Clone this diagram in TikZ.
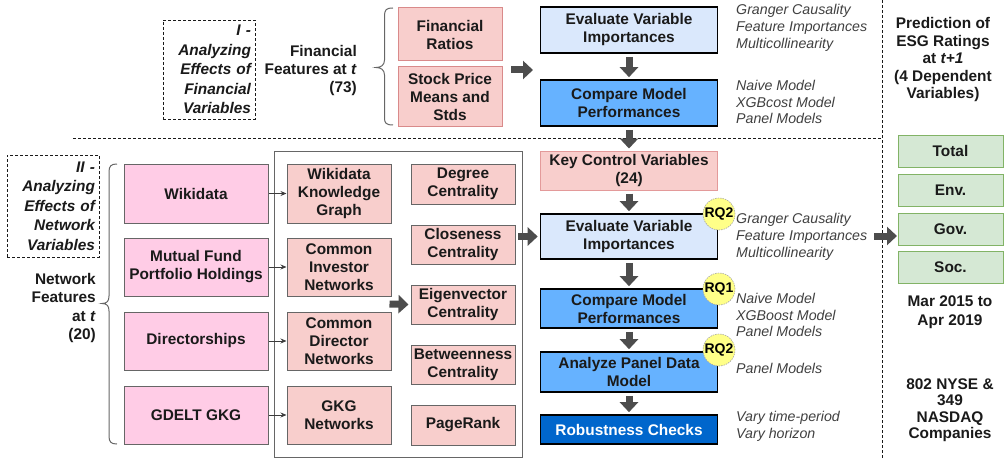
\documentclass[tikz,border=0pt]{standalone}
\usepackage{fontspec}
\setmainfont{Liberation Sans}
\usetikzlibrary{arrows.meta,calc}

\definecolor{finfill}{HTML}{F8CECC}
\definecolor{finborder}{HTML}{D98A8A}
\definecolor{kcborder}{HTML}{E39A9A}
\definecolor{pinkfill}{HTML}{FFCCE6}
\definecolor{boxgray}{HTML}{666666}
\definecolor{evalfill}{HTML}{DAE8FC}
\definecolor{cmpfill}{HTML}{66B2FF}
\definecolor{robfill}{HTML}{0066CC}
\definecolor{greenfill}{HTML}{D5E8D4}
\definecolor{greenborder}{HTML}{82B366}
\definecolor{rqfill}{HTML}{FFFF88}
\definecolor{arrowgray}{HTML}{4D4D4D}
\definecolor{itgray}{HTML}{404040}
\definecolor{inkblack}{HTML}{1A1A1A}

\begin{document}
\begin{tikzpicture}[x=1pt,y=-1pt,
  txt/.style={font=\bfseries\fontsize{15.4}{18}\selectfont, align=center, inner sep=0pt, text=inkblack},
  box/.style={txt, draw, rectangle, line width=1pt},
  finbox/.style={box, fill=finfill, draw=finborder, minimum width=104pt},
  netsrc/.style={box, fill=pinkfill, draw=boxgray, minimum width=144pt},
  netbox/.style={box, fill=finfill, draw=boxgray, minimum width=104pt},
  stepbox/.style={box, draw=black, line width=1.6pt, minimum width=177pt},
  evalbox/.style={stepbox, fill=evalfill},
  cmpbox/.style={stepbox, fill=cmpfill},
  robbox/.style={stepbox, fill=robfill, text=white},
  outbox/.style={box, fill=greenfill, draw=greenborder, minimum width=105pt, minimum height=32pt},
  partbox/.style={draw=inkblack, line width=0.9pt, dash pattern=on 3pt off 2pt,
    font=\bfseries\itshape\fontsize{15.4}{19.5}\selectfont, align=right, text width=84pt,
    inner sep=4pt, text=inkblack},
  itx/.style={font=\itshape\fontsize{14.2}{16.8}\selectfont, text=itgray, align=left, inner sep=0pt},
  rq/.style={circle, fill=rqfill, draw=gray!70, dash pattern=on 1.5pt off 1pt, line width=0.6pt,
    minimum size=32pt, inner sep=0pt, font=\bfseries\fontsize{14}{14}\selectfont},
  fat/.style={draw=arrowgray, line width=7pt, -{Triangle[width=18pt,length=10pt]}},
  feed/.style={draw=inkblack!85, line width=0.8pt, -{Stealth[length=6pt,width=5pt]}},
  sep/.style={draw=inkblack, line width=0.9pt, dash pattern=on 3pt off 2pt},
  bracket/.style={draw=boxgray, line width=1pt},
]
\useasboundingbox (0,0) rectangle (1007,460);

% ---------- separators ----------
\draw[sep] (73,138) -- (882,138);
\draw[sep] (882,0) -- (882,460);

% ---------- part I: financial variables ----------
\node[partbox, minimum height=99pt] (part1) at (209,69.5)
  {I -\\Analyzing\\Effects of\\Financial\\Variables};
\node[txt, align=right, anchor=east] (finfeat) at (357,71)
  {Financial\\Features at \textit{t}\\(73)};

\node[finbox, minimum height=53pt] (fr) at (450,34.5) {Financial\\Ratios};
\node[finbox, minimum height=59pt] (sp) at (450,96.5) {Stock Price\\Means and\\Stds};

% curly bracket grouping the financial feature boxes
\draw[bracket] (393,8) .. controls (386,8) and (384.5,10) .. (384.5,16)
  -- (384.5,60) .. controls (384.5,65) and (381,67.5) .. (376,67.5)
  .. controls (381,67.5) and (384.5,70) .. (384.5,75)
  -- (384.5,118) .. controls (384.5,123) and (386,125) .. (393,125);

\node[evalbox, minimum height=46pt] (ev1) at (629,30) {Evaluate Variable\\Importances};
\node[cmpbox, minimum height=46pt] (cm1) at (629,103) {Compare Model\\Performances};

\node[itx, anchor=west] (it1) at (736,28) {Granger Causality\\Feature Importances\\Multicollinearity};
\node[itx, anchor=west] (it2) at (736,102) {Naive Model\\XGBcost Model\\Panel Models};

\coordinate (fa) at (511,70);
\coordinate (fb) at (533,70);
\draw[fat] (fa) -- (fb);
\draw[fat] ($(ev1.south)+(0,3)$) -- ($(cm1.north)+(0,-2)$);

% ---------- part II: network variables ----------
\node[partbox, minimum height=102pt] (part2) at (53,206)
  {II -\\Analyzing\\Effects of\\Network\\Variables};
\node[txt, align=right, anchor=east, font=\bfseries\fontsize{15.4}{18.5}\selectfont] (netfeat) at (96,308)
  {Network\\Features\\at \textit{t}\\(20)};

\node[netsrc, minimum height=59pt] (wk) at (196,193.5) {Wikidata};
\node[netsrc, minimum height=58pt] (mf) at (196,267) {Mutual Fund\\Portfolio Holdings};
\node[netsrc, minimum height=58pt] (dr) at (196,341) {Directorships};
\node[netsrc, minimum height=58pt] (gd) at (196,415) {GDELT GKG};

% curly bracket grouping the network data sources
\draw[bracket] (117,164) .. controls (111,164) and (109,166) .. (109,172)
  -- (109,296) .. controls (109,301) and (107,303.5) .. (102,303.5)
  .. controls (107,303.5) and (109,306) .. (109,311)
  -- (109,436) .. controls (109,442) and (111,444) .. (117,444);

\node[draw=boxgray, line width=0.9pt, minimum width=248pt, minimum height=306pt, inner sep=0pt]
  (netframe) at (398,304) {};

\node[netbox, minimum height=59pt] (wkg) at (339,193.5) {Wikidata\\Knowledge\\Graph};
\node[netbox, minimum height=58pt] (cin) at (339,267) {Common\\Investor\\Networks};
\node[netbox, minimum height=58pt] (cdn) at (339,341) {Common\\Director\\Networks};
\node[netbox, minimum height=58pt] (gkg) at (339,415) {GKG\\Networks};

\draw[feed] (wk) -- (wkg);
\draw[feed] (mf) -- (cin);
\draw[feed] (dr) -- (cdn);
\draw[feed] (gd) -- (gkg);

\node[netbox, minimum height=40pt] (deg) at (463,184) {Degree\\Centrality};
\node[netbox, minimum height=39pt] (clo) at (463,244.5) {Closeness\\Centrality};
\node[netbox, minimum height=39pt] (eig) at (463,304.5) {Eigenvector\\Centrality};
\node[netbox, minimum height=39pt] (btw) at (463,364.5) {Betweenness\\Centrality};
\node[netbox, minimum height=40pt] (pgr) at (463,425) {PageRank};

\draw[fat] ($(cin.south east)!0.5!(cdn.north east)+(-2,0)$) -- ($(eig.west)+(-2,0)$);

% ---------- analysis steps ----------
\node[box, fill=finfill, draw=kcborder, minimum width=177pt, minimum height=39pt] (kc) at (629,170.5)
  {Key Control Variables\\(24)};
\node[evalbox, minimum height=45pt] (ev2) at (629,236.5) {Evaluate Variable\\Importances};
\node[cmpbox, minimum height=39pt] (cm2) at (629,308.5) {Compare Model\\Performances};
\node[cmpbox, minimum height=40pt] (an) at (629,372) {Analyze Panel Data\\Model};
\node[robbox, minimum height=29pt] (rb) at (629,429.5) {Robustness Checks};

\draw[fat] ($(cm1.south)+(0,3)$) -- ($(kc.north)+(0,-2)$);
\draw[fat] ($(kc.south)+(0,3)$) -- ($(ev2.north)+(0,-2)$);
\draw[fat] ($(ev2.south)+(0,3)$) -- ($(cm2.north)+(0,-2)$);
\draw[fat] ($(cm2.south)+(0,3)$) -- ($(an.north)+(0,-2)$);
\draw[fat] ($(an.south)+(0,3)$) -- ($(rb.north)+(0,-2)$);
\draw[fat] ($(netframe.east |- ev2.west)+(-4,0)$) -- ($(ev2.west)+(-2,0)$);

\node[rq] (rqa) at (719,214) {RQ2};
\node[rq] (rqb) at (719,289) {RQ1};
\node[rq] (rqc) at (719,350) {RQ2};

\node[itx, anchor=west] (it3) at (736,237) {Granger Causality\\Feature Importances\\Multicollinearity};
\node[itx, anchor=west] (it4) at (736,315) {Naive Model\\XGBoost Model\\Panel Models};
\node[itx, anchor=west] (it5) at (736,368) {Panel Models};
\node[itx, anchor=west] (it6) at (736,426.5) {Vary time-period\\Vary horizon};

% ---------- dependent variables ----------
\node[txt, font=\bfseries\fontsize{15.4}{17.5}\selectfont] (pred) at (943,60)
  {Prediction of\\ESG Ratings\\at \textit{t+1}\\(4 Dependent\\Variables)};

\node[outbox] (tot) at (950.5,151) {Total};
\node[outbox] (env) at (950.5,190) {Env.};
\node[outbox] (gov) at (950.5,229) {Gov.};
\node[outbox] (soc) at (950.5,267) {Soc.};

\coordinate (ga) at (874,236);
\coordinate (gb) at (897,236);
\draw[fat] (ga) -- (gb);

\node[txt, font=\bfseries\fontsize{15.4}{19}\selectfont] (period) at (950,312) {Mar 2015 to\\Apr 2019};
\node[txt, font=\bfseries\fontsize{15.4}{16.5}\selectfont] (firms) at (950,410) {802 NYSE \&\\349\\NASDAQ\\Companies};

\end{tikzpicture}
\end{document}
